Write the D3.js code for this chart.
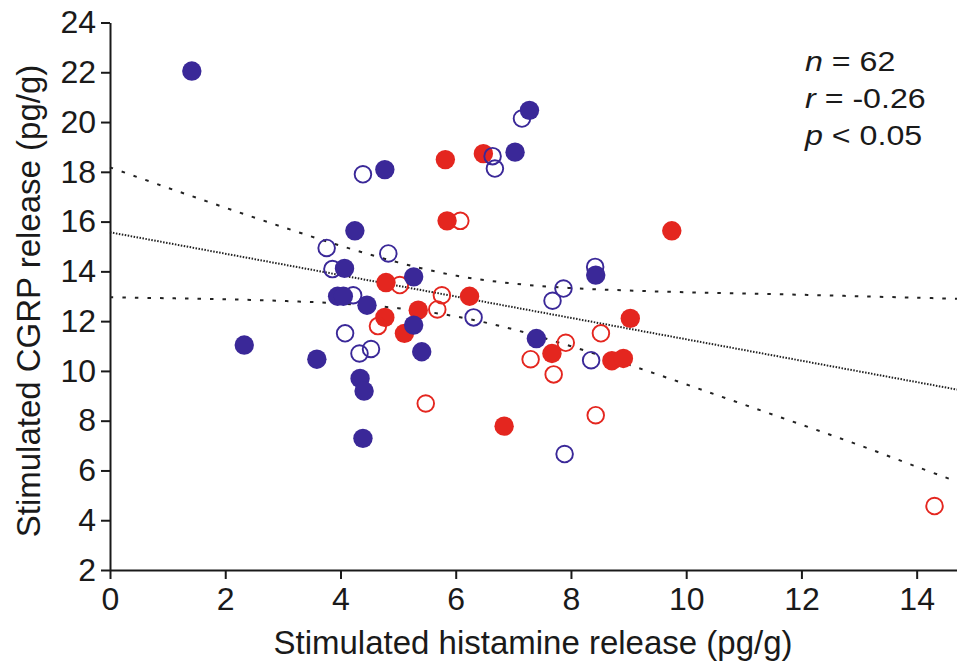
<!DOCTYPE html>
<html lang="en">

<head>
    <meta charset="utf-8">
    <title>CGRP vs histamine release</title>

    <script src="https://d3js.org/d3.v7.min.js"></script>

    <style>
        body {
            margin: 0;
            background-color: white;
        }

        #chart {
            display: block;
            font-family: "Liberation Sans", Arial, sans-serif;
        }

        .axis path,
        .axis line {
            stroke: #1a1a1a;
            stroke-width: 2;
        }

        .axis text {
            font-family: "Liberation Sans", Arial, sans-serif;
            font-size: 32px;
            fill: #1a1a1a;
        }

        .title {
            font-size: 33px;
            fill: #1a1a1a;
        }

        .stats {
            font-size: 28px;
            fill: #1a1a1a;
        }
    </style>
</head>

<body>

    <svg id="chart"></svg>

    <script type="text/javascript">
        var width = 957;
        var height = 668;

        // blue, filled
        var blueFilledX = [1.42, 2.33, 3.59, 4.25, 4.77, 7.28, 7.03, 4.07, 3.95, 4.05, 5.27, 4.46, 5.27, 5.41, 4.34, 4.41, 4.39, 7.40, 8.43];
        var blueFilledY = [22.05, 11.04, 10.47, 15.63, 18.09, 20.47, 18.79, 14.12, 13.0, 13.0, 13.78, 12.64, 11.84, 10.77, 9.70, 9.19, 7.29, 11.30, 13.85];
        // blue, open
        var blueOpenX = [4.39, 7.15, 6.64, 6.68, 3.76, 4.83, 3.86, 4.22, 6.31, 8.42, 7.87, 7.68, 4.08, 4.33, 4.53, 8.35, 7.89];
        var blueOpenY = [17.90, 20.14, 18.63, 18.13, 14.94, 14.72, 14.09, 13.04, 12.15, 14.18, 13.31, 12.82, 11.51, 10.70, 10.88, 10.43, 6.66];
        // red, filled
        var redFilledX = [5.82, 6.48, 5.85, 4.79, 6.24, 5.35, 4.77, 5.11, 9.03, 9.75, 6.84, 7.67, 8.71, 8.91];
        var redFilledY = [18.49, 18.73, 16.03, 13.55, 13.0, 12.44, 12.15, 11.51, 12.11, 15.63, 7.78, 10.70, 10.41, 10.50];
        // red, open
        var redOpenX = [5.03, 6.08, 5.76, 5.68, 4.65, 5.48, 7.30, 7.91, 7.70, 8.52, 8.43, 14.31];
        var redOpenY = [13.45, 16.03, 13.04, 12.47, 11.80, 8.69, 10.47, 11.13, 9.86, 11.51, 8.22, 4.57];

        // regression line and 95% band
        var fitX = [0, 14.7];
        var fitY = [15.57, 9.25];
        var bandX = [0, 1, 2, 3, 4, 5, 6, 7, 8, 9, 10, 11, 12, 13, 14, 14.7];
        var bandUpper = [18.18, 17.36, 16.56, 15.78, 15.03, 14.36, 13.83, 13.51, 13.33, 13.23, 13.16, 13.11, 13.06, 13.0, 12.94, 12.9];
        var bandLower = [12.96, 12.92, 12.88, 12.81, 12.71, 12.52, 12.19, 11.67, 10.99, 10.25, 9.46, 8.65, 7.84, 7.02, 6.15, 5.55];

        var xTicks = [0, 2, 4, 6, 8, 10, 12, 14];
        var yTicks = [2, 4, 6, 8, 10, 12, 14, 16, 18, 20, 22, 24];

        var blue = "#3a2898";
        var red = "#e4261f";

        var svg = d3.select("#chart")
            .attr("width", width)
            .attr("height", height);

        var xScale = d3.scaleLinear()
            .domain([0, 14.7])
            .range([110, 957]);

        var yScale = d3.scaleLinear()
            .domain([2, 24])
            .range([570, 22.5]);

        var xAxis = d3.axisBottom(xScale)
            .tickValues(xTicks)
            .tickSize(9)
            .tickSizeOuter(0)
            .tickPadding(8);

        var yAxis = d3.axisLeft(yScale)
            .tickValues(yTicks)
            .tickSize(9)
            .tickSizeOuter(0)
            .tickPadding(5);

        svg.append("g")
            .attr("class", "axis")
            .attr("transform", "translate(0,570)")
            .call(xAxis);

        svg.append("g")
            .attr("class", "axis")
            .attr("transform", "translate(110,0)")
            .call(yAxis);

        // lines
        var line = d3.line()
            .x(function(d) { return xScale(d[0]); })
            .y(function(d) { return yScale(d[1]); });

        var curve = d3.line()
            .x(function(d) { return xScale(d[0]); })
            .y(function(d) { return yScale(d[1]); })
            .curve(d3.curveCatmullRom);

        svg.append("path")
            .datum(d3.zip(bandX, bandUpper))
            .attr("d", curve)
            .attr("fill", "none")
            .attr("stroke", "#222")
            .attr("stroke-width", 2)
            .attr("stroke-dasharray", "3.5,9");

        svg.append("path")
            .datum(d3.zip(bandX, bandLower))
            .attr("d", curve)
            .attr("fill", "none")
            .attr("stroke", "#222")
            .attr("stroke-width", 2)
            .attr("stroke-dasharray", "3.5,9");

        svg.append("path")
            .datum(d3.zip(fitX, fitY))
            .attr("d", line)
            .attr("fill", "none")
            .attr("stroke", "#222")
            .attr("stroke-width", 2)
            .attr("stroke-dasharray", "1.5,1.5");

        // points
        function drawDots(xs, ys, color, filled) {
            svg.append("g")
                .selectAll("circle")
                .data(d3.zip(xs, ys))
                .enter()
                .append("circle")
                .attr("cx", function(d) { return xScale(d[0]); })
                .attr("cy", function(d) { return yScale(d[1]); })
                .attr("r", filled ? 9.7 : 8.3)
                .attr("fill", filled ? color : "none")
                .attr("stroke", filled ? "none" : color)
                .attr("stroke-width", 1.9);
        }

        drawDots(redFilledX, redFilledY, red, true);
        drawDots(redOpenX, redOpenY, red, false);
        drawDots(blueOpenX, blueOpenY, blue, false);
        drawDots(blueFilledX, blueFilledY, blue, true);

        // titles
        svg.append("text")
            .attr("class", "title")
            .attr("x", 533)
            .attr("y", 654)
            .attr("text-anchor", "middle")
            .text("Stimulated histamine release (pg/g)");

        svg.append("text")
            .attr("class", "title")
            .attr("transform", "translate(40,301) rotate(-90)")
            .attr("text-anchor", "middle")
            .text("Stimulated CGRP release (pg/g)");

        // stats
        var statLines = [["n", " = 62"], ["r", " = -0.26"], ["p", " < 0.05"]];
        var statY = [71, 108, 145];

        var stats = svg.append("g")
            .attr("class", "stats");

        statLines.forEach(function(s, i) {
            var t = stats.append("text")
                .attr("transform", "translate(805," + statY[i] + ") scale(1.15,1)");
            t.append("tspan").attr("font-style", "italic").text(s[0]);
            t.append("tspan").text(s[1]);
        });
    </script>
</body>

</html>
